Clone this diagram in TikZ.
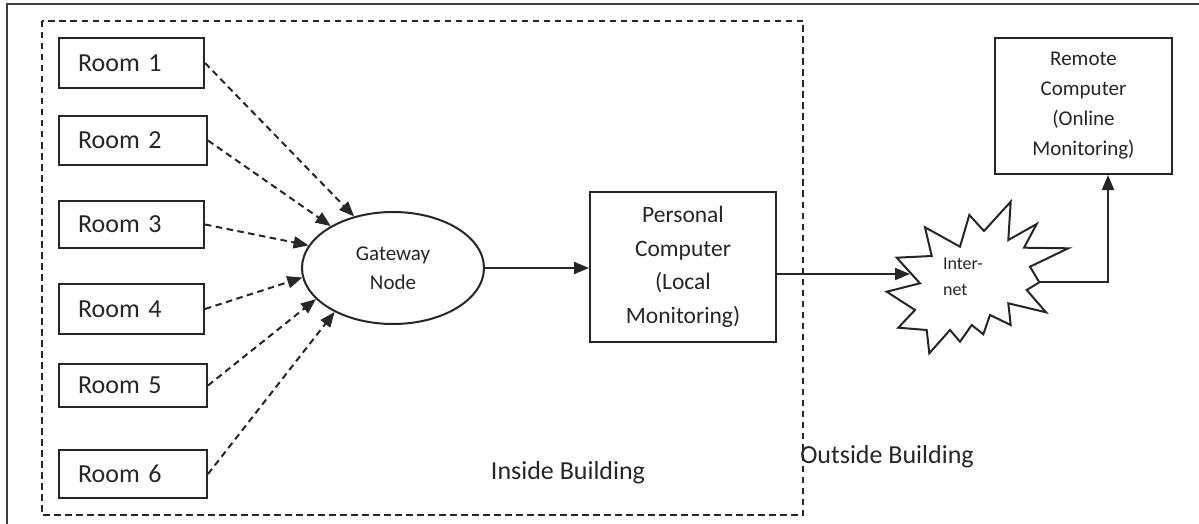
\documentclass[tikz,border=0pt]{standalone}
\usepackage{fontspec}
\setmainfont{Carlito}
\usetikzlibrary{arrows.meta,shapes.geometric}
\begin{document}
\begin{tikzpicture}[x=1pt,y=-1pt,
  line width=2pt, color=black!85,
  room/.style={draw, rectangle, inner xsep=19pt, inner ysep=0pt, text width=107pt, align=left, font=\fontsize{26}{31}\selectfont},
  box/.style={draw, rectangle, align=center},
  dasharrow/.style={dash pattern=on 6.5pt off 4.5pt, -{Triangle[length=15pt,width=12pt]}},
  solidarrow/.style={-{Triangle[length=15pt,width=12pt]}},
  lbl/.style={font=\fontsize{26}{31}\selectfont},
  region/.style={dash pattern=on 6.5pt off 4.5pt, line width=2pt}
]
\useasboundingbox (0,0) rectangle (1199,524);
\fill[white] (0,0) rectangle (1199,524);

% outer frame (right and bottom cropped)
\draw[line width=2.8pt, black!75] (7,524) -- (7,4) -- (1199,4);

% inside building region
\draw[region] (42,21) rectangle (803,515);

% rooms
\node[room, minimum height=50pt] (r1) at (131.5,63) {Room 1};
\node[room, text width=110pt, minimum height=49pt] (r2) at (133,140.5) {Room 2};
\node[room, minimum height=47pt] (r3) at (131.5,224.5) {Room 3};
\node[room, minimum height=50pt] (r4) at (131.5,309) {Room 4};
\node[room, text width=110pt, minimum height=43pt] (r5) at (133,385.5) {Room 5};
\node[room, text width=110pt, minimum height=48pt] (r6) at (133,474) {Room 6};

% gateway
\node[draw, ellipse, minimum width=182pt, minimum height=112pt, inner sep=0pt, align=center,
      font=\fontsize{21}{29}\selectfont] (gw) at (393,268) {Gateway\\Node};

% personal computer
\node[box, minimum width=186pt, minimum height=150pt, font=\fontsize{23.5}{33.5}\selectfont]
  (pc) at (683,267) {Personal\\Computer\\(Local\\Monitoring)};

% remote computer
\node[box, minimum width=177pt, minimum height=136pt, font=\fontsize{21}{30}\selectfont]
  (rc) at (1083.5,106) {Remote\\Computer\\(Online\\Monitoring)};

% internet starburst
\draw[fill=white] (896.7,257.7) -- (931.7,256) -- (925,227.3) -- (960,246.7) -- (969.3,215)
  -- (984,231) -- (1010.7,201.7) -- (1008.3,240) -- (1036.7,224) -- (1024,247.7) -- (1068.3,248.3)
  -- (1030,266.7) -- (1039.3,282.3) -- (1026.7,290) -- (1046,312.3) -- (1008.3,303.3) -- (1010.7,325)
  -- (990,315) -- (983.3,334.3) -- (971.7,325) -- (960,341.7) -- (950,330) -- (929.3,353.3)
  -- (926.7,330) -- (898.3,327.7) -- (915,310) -- (886.7,291.7) -- (920,283.3) -- cycle;
\node[align=left, font=\fontsize{18}{26}\selectfont] (inet) at (963,277) {Inter-\\net};
\coordinate (inetIn) at (910,274);
\coordinate (inetOut) at (1039.3,282.3);

% labels
\node[lbl] (inside) at (568,473) {Inside Building};
\node[lbl] (outside) at (887,457) {Outside Building};

% connectors
\draw[dasharrow] (r1.east) -- (gw.127);
\draw[dasharrow] (r2.east) -- (gw.146);
\draw[dasharrow] (r3.east) -- (gw.165);
\draw[dasharrow] (r4.east) -- (gw.186);
\draw[dasharrow] (r5.east) -- (gw.202);
\draw[dasharrow] (r6.east) -- (gw.217);
\draw[solidarrow] (gw.east) -- (gw.east -| pc.west);
\draw[solidarrow] (pc.east |- inetIn) -- (inetIn);
\draw[solidarrow] (inetOut) -| ([xshift=24.5pt]rc.south);
\end{tikzpicture}
\end{document}
